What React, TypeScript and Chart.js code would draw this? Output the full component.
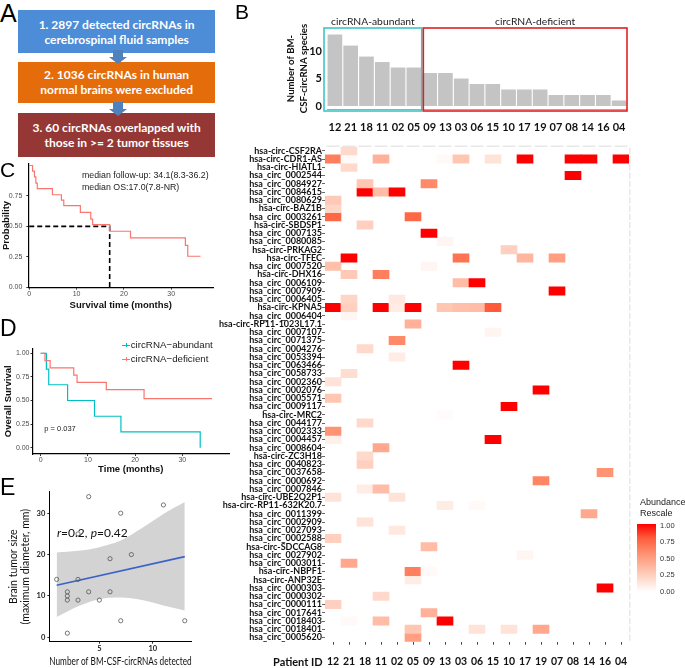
import React, { useEffect, useRef } from "react";
import { Chart, registerables } from "chart.js";

Chart.register(...registerables);
Chart.defaults.font.family = "'Liberation Sans', Arial, sans-serif";

const SANS = "'Liberation Sans', Arial, sans-serif";
const CAL = "Lato, 'Open Sans', sans-serif";

// ---------------- Panel A ----------------
const flowSteps = [
  ["1. 2897 detected circRNAs in", "cerebrospinal fluid samples"],
  ["2. 1036 circRNAs in human", "normal brains were excluded"],
  ["3. 60 circRNAs overlapped with", "those in >= 2 tumor tissues"],
];
const flowColors = ["#4D8CD6", "#E46C0A", "#953735"];

// ---------------- Panel B ----------------
const patientIds = ["12", "21", "18", "11", "02", "05", "09", "13", "03", "06", "15", "10", "17", "19", "07", "08", "14", "16", "04"];
const circRNACounts = [13, 11, 9, 8, 7, 7, 6, 6, 5, 4, 4, 3, 3, 3, 2, 2, 2, 2, 1];
const abundantSize = 6;
const groupLabels = ["circRNA-abundant", "circRNA-deficient"];
const countTicks = [0, 5, 10];

// ---------------- Panel C ----------------
const osMonths = [0, 0.7, 1.1, 1.4, 1.7, 4.9, 6.8, 7.3, 10.8, 13.0, 13.4, 17.0, 21.4, 33.0, 33.5, 36.2];
const osSurvival = [1, 0.954, 0.907, 0.856, 0.81, 0.76, 0.715, 0.67, 0.615, 0.56, 0.515, 0.46, 0.406, 0.344, 0.255, 0.255];
const medianOS = 17.0;
const monthTicks = [0, 10, 20, 30];
const probTicksC = [0, 0.25, 0.5, 0.75];
const followUpText = ["median follow-up: 34.1(8.3-36.2)", "median OS:17.0(7.8-NR)"];

// ---------------- Panel D ----------------
const abundantMonths = [0, 1.2, 1.7, 5.7, 11.4, 17.0, 33.8];
const abundantSurvival = [1, 0.833, 0.667, 0.5, 0.333, 0.167, 0];
const deficientMonths = [0, 0.9, 2.0, 7.0, 7.7, 13.9, 21.9, 36.3];
const deficientSurvival = [1, 0.923, 0.846, 0.769, 0.692, 0.615, 0.519, 0.519];
const probTicksD = [0, 0.25, 0.5, 0.75, 1];
const pValueText = "p = 0.037";
const groupLegend = ["circRNA\u2212abundant", "circRNA\u2212deficient"];

// ---------------- Panel E ----------------
const circNumber = [1, 2, 2, 2, 2, 3, 3, 3, 4, 4, 5, 6, 6, 7, 7, 8, 11, 13];
const tumorSize = [14, 11, 10, 9, 1, 25, 14, 9, 34, 11, 9, 19, 11, 30, 4, 20, 32, 4];
const fitNumber = [1, 13];
const fitSize = [12.6, 19.5];
const bandNumber = [1, 3, 5, 7, 9, 11, 13];
const bandUpper = [20.5, 20.9, 21.8, 23.4, 26.4, 29.8, 32.7];
const bandLower = [4.9, 7.5, 9.2, 9.6, 9.0, 7.7, 6.5];
const sizeTicks = [0, 10, 20, 30];
const numberTicks = [5, 10];

// ---------------- Heatmap ----------------
const circNames = [
  "hsa-circ-CSF2RA", "hsa-circ-CDR1-AS", "hsa-circ-HIATL1", "hsa_circ_0002544", "hsa_circ_0084927",
  "hsa_circ_0084615", "hsa_circ_0080629", "hsa-circ-BAZ1B", "hsa_circ_0003261", "hsa-circ-SBDSP1",
  "hsa_circ_0007135", "hsa_circ_0080085", "hsa-circ-PRKAG2", "hsa-circ-TFEC", "hsa_circ_0007520",
  "hsa-circ-DHX16", "hsa_circ_0006109", "hsa_circ_0007909", "hsa_circ_0006405", "hsa-circ-KPNA5",
  "hsa_circ_0006404", "hsa-circ-RP11-1023L17.1", "hsa_circ_0007107", "hsa_circ_0071375", "hsa_circ_0004276",
  "hsa_circ_0053394", "hsa_circ_0063466", "hsa_circ_0058733", "hsa_circ_0002360", "hsa_circ_0002076",
  "hsa_circ_0005571", "hsa_circ_0009117", "hsa-circ-MRC2", "hsa_circ_0044177", "hsa_circ_0002333",
  "hsa_circ_0004457", "hsa_circ_0008604", "hsa-circ-ZC3H18", "hsa_circ_0040823", "hsa_circ_0037658",
  "hsa_circ_0000692", "hsa_circ_0007846", "hsa-circ-UBE2Q2P1", "hsa-circ-RP11-632K20.7", "hsa_circ_0011399",
  "hsa_circ_0002909", "hsa_circ_0027093", "hsa_circ_0002588", "hsa-circ-SDCCAG8", "hsa_circ_0027902",
  "hsa_circ_0003011", "hsa-circ-NBPF1", "hsa-circ-ANP32E", "hsa_circ_0000303", "hsa_circ_0000302",
  "hsa_circ_0000111", "hsa_circ_0017641", "hsa_circ_0018403", "hsa_circ_0018401", "hsa_circ_0005620",
];
// [row, patient column, rescaled abundance]
const heatCells: [number, number, number][] = [
  [0, 1, 0.2],
  [1, 0, 0.65], [1, 1, 0.03], [1, 3, 0.4], [1, 7, 0.03], [1, 8, 0.3], [1, 10, 0.15], [1, 12, 1], [1, 15, 1], [1, 16, 1], [1, 18, 1],
  [2, 1, 0.2],
  [3, 15, 1],
  [4, 2, 0.3], [4, 6, 0.6],
  [5, 2, 1], [5, 3, 0.35], [5, 4, 1],
  [6, 0, 0.28],
  [7, 0, 0.22],
  [8, 0, 0.75], [8, 5, 0.75],
  [9, 2, 0.25],
  [10, 6, 1],
  [11, 7, 0.05],
  [12, 11, 0.25],
  [13, 1, 1], [13, 8, 0.7], [13, 12, 0.38], [13, 14, 0.5],
  [14, 0, 0.33], [14, 6, 0.05],
  [15, 1, 0.28], [15, 3, 0.65],
  [16, 8, 0.35], [16, 9, 1],
  [17, 14, 1],
  [18, 1, 0.22], [18, 4, 0.12],
  [19, 0, 1], [19, 1, 0.25], [19, 3, 1], [19, 4, 0.1], [19, 5, 1], [19, 7, 0.3], [19, 8, 0.33], [19, 9, 0.35], [19, 10, 0.8],
  [20, 1, 0.05],
  [21, 5, 0.4],
  [22, 10, 0.06],
  [23, 4, 0.6],
  [24, 2, 0.2],
  [25, 4, 0.1],
  [26, 8, 1],
  [27, 1, 0.18],
  [28, 0, 0.15],
  [29, 13, 1],
  [30, 0, 0.3],
  [31, 11, 1],
  [32, 7, 0.02],
  [33, 2, 0.2],
  [34, 0, 0.55],
  [35, 0, 0.08], [35, 10, 1],
  [36, 3, 0.45],
  [37, 2, 0.2],
  [38, 2, 0.25],
  [39, 17, 0.55],
  [40, 13, 0.62],
  [41, 2, 0.1], [41, 3, 0.35],
  [42, 0, 0.15], [42, 4, 0.15],
  [43, 7, 0.1], [43, 9, 0.03],
  [44, 16, 0.45],
  [45, 2, 0.15],
  [46, 4, 0.12],
  [47, 0, 0.25],
  [48, 6, 0.35],
  [49, 12, 0.05],
  [50, 1, 0.45],
  [51, 5, 0.65], [51, 6, 0.03],
  [52, 5, 0.1],
  [53, 17, 1],
  [54, 3, 0.2],
  [55, 0, 0.25],
  [56, 6, 0.4],
  [57, 1, 0.03], [57, 3, 0.35], [57, 7, 1],
  [58, 5, 0.3], [58, 9, 0.15], [58, 11, 0.15], [58, 13, 0.45],
  [59, 5, 0.5],
];
const legendTicks = [1, 0.75, 0.5, 0.25, 0];

// ---------------- helpers ----------------
function heatColor(v: number): string {
  const t = Math.max(0, Math.min(1, v));
  const L = 100 + (53.24 - 100) * t;
  const A = 80.09 * t;
  const B = 67.2 * t;
  const fy = (L + 16) / 116;
  const fx = fy + A / 500;
  const fz = fy - B / 200;
  const d = 6 / 29;
  const inv = (f: number) => (f > d ? f * f * f : 3 * d * d * (f - 4 / 29));
  const X = 0.95047 * inv(fx);
  const Y = inv(fy);
  const Z = 1.08883 * inv(fz);
  const lin = [
    3.2406 * X - 1.5372 * Y - 0.4986 * Z,
    -0.9689 * X + 1.8758 * Y + 0.0415 * Z,
    0.0557 * X - 0.204 * Y + 1.057 * Z,
  ];
  const rgb = lin.map((c) => {
    const cc = Math.max(0, Math.min(1, c));
    const g = cc <= 0.0031308 ? 12.92 * cc : 1.055 * Math.pow(cc, 1 / 2.4) - 0.055;
    return Math.round(g * 255);
  });
  return `rgb(${rgb[0]},${rgb[1]},${rgb[2]})`;
}

const fixW = (w: number) => (s: any) => {
  s.width = w;
};
const fixH = (h: number) => (s: any) => {
  s.height = h;
};
const setTicks = (vals: number[]) => (s: any) => {
  s.ticks = vals.map((v) => ({ value: v }));
};
const pts = (xs: number[], ys: number[]) => xs.map((x, i) => ({ x, y: ys[i] }));
const noPlugins = { legend: { display: false }, tooltip: { enabled: false } };

// ---------------- chart configs ----------------
function barConfig(): any {
  const boxes = {
    id: "groupBoxes",
    afterDatasetsDraw(chart: any) {
      const { ctx, chartArea } = chart;
      const x = chart.scales.x;
      const step = x.getPixelForValue(1) - x.getPixelForValue(0);
      const edge = (i: number) => x.getPixelForValue(i) - step / 2;
      const top = chartArea.top;
      const bottom = chartArea.bottom + 2;
      ctx.save();
      ctx.lineWidth = 1.6;
      const a0 = edge(0) - 3;
      const a1 = edge(abundantSize);
      ctx.strokeStyle = "#3EC6C6";
      ctx.strokeRect(a0, top, a1 - a0, bottom - top);
      const d0 = edge(abundantSize) + 1.6;
      const d1 = edge(patientIds.length);
      ctx.strokeStyle = "#E3201E";
      ctx.strokeRect(d0, top, d1 - d0, bottom - top);
      ctx.fillStyle = "#222";
      ctx.font = `10.3px ${CAL}`;
      ctx.textAlign = "center";
      ctx.textBaseline = "middle";
      ctx.fillText(groupLabels[0], (a0 + a1) / 2, top - 6);
      ctx.fillText(groupLabels[1], (d0 + d1) / 2 + 10, top - 6);
      ctx.restore();
    },
  };
  return {
    type: "bar",
    data: {
      labels: patientIds,
      datasets: [
        {
          data: circRNACounts,
          backgroundColor: "#C4C4C4",
          borderWidth: 0,
          barPercentage: 0.93,
          categoryPercentage: 1,
        },
      ],
    },
    options: {
      animation: false,
      responsive: false,
      layout: { padding: { left: 50, right: 58, top: 28, bottom: 0 } },
      plugins: noPlugins,
      scales: {
        x: {
          grid: { display: false, drawTicks: false },
          border: { display: true, color: "#A8A8A8", width: 1 },
          ticks: { font: { family: CAL, weight: "bold", size: 11 }, color: "#111", padding: 11.4, maxRotation: 0, autoSkip: false },
          afterFit: fixH(31),
        },
        y: {
          min: -0.55,
          max: 14.2,
          afterBuildTicks: setTicks(countTicks),
          grid: { display: false, drawTicks: false },
          border: { display: false },
          ticks: { font: { family: CAL, weight: "bold", size: 11 }, color: "#111", padding: 5 },
          title: {
            display: true,
            text: ["Number of BM-", "CSF-circRNA species"],
            font: { family: CAL, weight: "bold", size: 9.6, lineHeight: 1.4 },
            color: "#111",
            padding: { top: 4, bottom: 0 },
          },
          afterFit: fixW(47),
        },
      },
    },
    plugins: [boxes],
  };
}

const kmTickFont = { family: SANS, size: 7 };
const kmTitleFont = { family: SANS, size: 9.5, weight: "bold" };

function kmAllConfig(): any {
  return {
    type: "line",
    data: {
      datasets: [
        {
          data: pts(osMonths, osSurvival),
          borderColor: "#F8766D",
          borderWidth: 1.2,
          stepped: "before",
          pointRadius: 0,
          fill: false,
        },
        {
          data: [
            { x: 0, y: 0.5 },
            { x: medianOS, y: 0.5 },
            { x: medianOS, y: 0 },
          ],
          borderColor: "#000",
          borderWidth: 1.6,
          borderDash: [5, 3],
          pointRadius: 0,
          fill: false,
        },
      ],
    },
    options: {
      animation: false,
      responsive: false,
      layout: { padding: { left: 0, right: 16.7, top: 13.3, bottom: 0 } },
      plugins: noPlugins,
      scales: {
        x: {
          type: "linear",
          min: -0.2,
          max: 38.9,
          afterBuildTicks: setTicks(monthTicks),
          border: { display: true, color: "#000", width: 1.2 },
          grid: { display: true, drawOnChartArea: false, tickLength: 2, color: "#333" },
          ticks: { font: kmTickFont, color: "#4D4D4D", padding: 0, maxRotation: 0 },
          title: { display: true, text: "Survival time (months)", font: kmTitleFont, color: "#111", padding: { top: 0, bottom: 4.3 } },
          afterFit: fixH(27.4),
        },
        y: {
          type: "linear",
          min: -0.0025,
          max: 1.018,
          afterBuildTicks: setTicks(probTicksC),
          border: { display: true, color: "#000", width: 1.2 },
          grid: { display: true, drawOnChartArea: false, tickLength: 2, color: "#333" },
          ticks: { font: kmTickFont, color: "#4D4D4D", padding: 4, callback: (v: number) => v.toFixed(2) },
          title: { display: true, text: "Probability", font: kmTitleFont, color: "#111", padding: { top: 1, bottom: 0 } },
          afterFit: fixW(28.3),
        },
      },
    },
  };
}

function kmGroupConfig(): any {
  return {
    type: "line",
    data: {
      datasets: [
        {
          data: pts(deficientMonths, deficientSurvival),
          borderColor: "#F8766D",
          borderWidth: 1.2,
          stepped: "before",
          pointRadius: 0,
          fill: false,
        },
        {
          data: pts(abundantMonths, abundantSurvival),
          borderColor: "#00BFC4",
          borderWidth: 1.2,
          stepped: "before",
          pointRadius: 0,
          fill: false,
        },
      ],
    },
    options: {
      animation: false,
      responsive: false,
      layout: { padding: { left: 0, right: 1, top: 38.6, bottom: 0 } },
      plugins: noPlugins,
      scales: {
        x: {
          type: "linear",
          min: -1.74,
          max: 39.9,
          afterBuildTicks: setTicks(monthTicks),
          border: { display: true, color: "#000", width: 1.2 },
          grid: { display: true, drawOnChartArea: false, tickLength: 2, color: "#333" },
          ticks: { font: kmTickFont, color: "#4D4D4D", padding: 0, maxRotation: 0 },
          title: { display: true, text: "Time (months)", font: kmTitleFont, color: "#111", padding: { top: 0, bottom: 0 } },
          afterFit: fixH(21),
        },
        y: {
          type: "linear",
          min: -0.067,
          max: 1.05,
          afterBuildTicks: setTicks(probTicksD),
          border: { display: true, color: "#000", width: 1.2 },
          grid: { display: true, drawOnChartArea: false, tickLength: 2, color: "#333" },
          ticks: { font: kmTickFont, color: "#4D4D4D", padding: 1, callback: (v: number) => v.toFixed(2) },
          title: { display: true, text: "Overall Survival", font: kmTitleFont, color: "#111", padding: { top: 2.3, bottom: 0 } },
          afterFit: fixW(32.5),
        },
      },
    },
  };
}

function scatterConfig(): any {
  return {
    type: "line",
    data: {
      datasets: [
        {
          data: pts(circNumber, tumorSize),
          showLine: false,
          pointRadius: 2.1,
          pointBorderColor: "#555",
          pointBackgroundColor: "rgba(0,0,0,0)",
          pointBorderWidth: 0.8,
        },
        {
          data: pts(fitNumber, fitSize),
          borderColor: "#3A62C8",
          borderWidth: 1.6,
          pointRadius: 0,
          fill: false,
        },
        {
          data: pts(bandNumber, bandUpper),
          borderWidth: 0,
          borderColor: "rgba(0,0,0,0)",
          pointRadius: 0,
          fill: false,
          tension: 0.4,
          cubicInterpolationMode: "monotone",
        },
        {
          data: pts(bandNumber, bandLower),
          borderWidth: 0,
          borderColor: "rgba(0,0,0,0)",
          backgroundColor: "#D3D3D3",
          pointRadius: 0,
          fill: "-1",
          tension: 0.4,
          cubicInterpolationMode: "monotone",
        },
      ],
    },
    options: {
      animation: false,
      responsive: false,
      layout: { padding: { left: 0, right: 38.3, top: 19.7, bottom: 0 } },
      plugins: { ...noPlugins, filler: { propagate: false } },
      scales: {
        x: {
          type: "linear",
          min: 0.31,
          max: 13.65,
          afterBuildTicks: setTicks(numberTicks),
          border: { display: true, color: "#000", width: 1 },
          grid: { display: true, drawOnChartArea: false, tickLength: 2, color: "#333" },
          ticks: { font: { family: CAL, size: 7.5, weight: "bold" }, color: "#222", padding: 0, maxRotation: 0 },
          title: { display: true, text: "Number of BM-CSF-circRNAs detected", font: { family: CAL, size: 11 }, color: "#111", padding: { top: 0, bottom: 0 } },
          afterFit: fixH(26.3),
        },
        y: {
          type: "linear",
          min: -1.06,
          max: 35.2,
          afterBuildTicks: setTicks(sizeTicks),
          border: { display: true, color: "#000", width: 1 },
          grid: { display: true, drawOnChartArea: false, tickLength: 2, color: "#333" },
          ticks: { font: { family: CAL, size: 7.5, weight: "bold" }, color: "#222", padding: 2 },
          title: {
            display: true,
            text: ["Brain tumor size", "(maximum diameter, mm)"],
            font: { family: CAL, size: 10.5, lineHeight: 1.2 },
            color: "#111",
            padding: { top: 7, bottom: 0 },
          },
          afterFit: fixW(49.3),
        },
      },
    },
  };
}

function heatConfig(): any {
  const datasets = circNames.map((name, r) => {
    const rowCells = heatCells.filter((c) => c[0] === r);
    return {
      label: name,
      data: patientIds.map((_, c) => (rowCells.some((k) => k[1] === c) ? [r - 0.5, r + 0.5] : null)),
      backgroundColor: patientIds.map((_, c) => {
        const cell = rowCells.find((k) => k[1] === c);
        return cell ? heatColor(cell[2]) : "rgba(0,0,0,0)";
      }),
      borderWidth: 0,
      barPercentage: 1,
      categoryPercentage: 1,
      grouped: false,
    };
  });
  const edges = {
    id: "panelEdges",
    beforeDatasetsDraw(chart: any) {
      const { ctx, chartArea } = chart;
      const x = chart.scales.x;
      const y = chart.scales.y;
      const cw = x.getPixelForValue(1) - x.getPixelForValue(0);
      const rh = Math.abs(y.getPixelForValue(1) - y.getPixelForValue(0));
      ctx.save();
      ctx.strokeStyle = "#E4E4E4";
      ctx.lineWidth = 1.3;
      for (let i = 0; i < patientIds.length; i++) {
        const cx = x.getPixelForValue(i);
        ctx.beginPath();
        ctx.moveTo(cx - cw / 2 + 1.5, chartArea.top - 0.5);
        ctx.lineTo(cx + cw / 2 - 1.5, chartArea.top - 0.5);
        ctx.stroke();
      }
      for (let r = 0; r < circNames.length; r++) {
        const cy = y.getPixelForValue(r);
        ctx.beginPath();
        ctx.moveTo(chartArea.right + 0.8, cy - rh / 2 + 1);
        ctx.lineTo(chartArea.right + 0.8, cy + rh / 2 - 1);
        ctx.stroke();
      }
      ctx.restore();
    },
  };
  return {
    type: "bar",
    data: { labels: patientIds, datasets },
    options: {
      animation: false,
      responsive: false,
      layout: { padding: { left: 0, right: 56, top: 6.7, bottom: 0 } },
      plugins: noPlugins,
      scales: {
        x: {
          offset: true,
          grid: { display: true, drawOnChartArea: false, offset: false, tickLength: 3, color: "#444", lineWidth: 1 },
          border: { display: false },
          ticks: { font: { family: CAL, weight: "bold", size: 10.5 }, color: "#111", padding: 10.7, maxRotation: 0, autoSkip: false },
          afterFit: fixH(26.3),
        },
        y: {
          type: "linear",
          min: -0.5,
          max: circNames.length - 0.5,
          reverse: true,
          afterBuildTicks: setTicks(circNames.map((_, i) => i)),
          grid: { display: true, drawOnChartArea: false, tickLength: 3, color: "#444", lineWidth: 0.8 },
          border: { display: false },
          ticks: {
            autoSkip: false,
            font: { family: CAL, weight: "bold", size: 9 },
            color: "#111",
            padding: 0,
            callback: (v: number) => circNames[v],
          },
          afterFit: fixW(110),
        },
      },
    },
    plugins: [edges],
  };
}

// ---------------- components ----------------
function ChartCanvas(props: { config: () => any; left: number; top: number; width: number; height: number }) {
  const ref = useRef<HTMLCanvasElement | null>(null);
  useEffect(() => {
    if (!ref.current) return;
    const chart = new Chart(ref.current, props.config());
    return () => chart.destroy();
  }, []);
  const { left, top, width, height } = props;
  return (
    <div style={{ position: "absolute", left, top, width, height }}>
      <canvas ref={ref} width={width} height={height} style={{ width, height, display: "block" }} />
    </div>
  );
}

function Letter(props: { ch: string; x: number; y: number; size: number }) {
  return (
    <div style={{ position: "absolute", left: props.x, top: props.y, fontFamily: SANS, fontSize: props.size, lineHeight: 1, color: "#000" }}>
      {props.ch}
    </div>
  );
}

function DownArrow(props: { x: number; y: number }) {
  return (
    <svg style={{ position: "absolute", left: props.x, top: props.y }} width={18} height={14}>
      <polygon points="4,0 14,0 14,7 18,7 9,14 0,7 4,7" fill="#4F81BD" />
    </svg>
  );
}

const boxTops = [10, 61.7, 113.3];
const boxHeights = [43.3, 41.6, 43.4];

export default function App() {
  const gradient = `linear-gradient(to bottom, ${[1, 0.8, 0.6, 0.4, 0.2, 0].map((v) => heatColor(v)).join(", ")})`;
  return (
    <div style={{ position: "absolute", left: 0, top: 0, width: 685, height: 668, overflow: "hidden", background: "#fff", fontFamily: SANS }}>
      {/* Panel A flowchart */}
      {flowSteps.map((lines, i) => (
        <div
          key={i}
          style={{
            position: "absolute",
            left: 18.3,
            top: boxTops[i],
            width: 196.7,
            height: boxHeights[i],
            background: flowColors[i],
            color: "#fff",
            fontFamily: CAL,
            fontWeight: "bold",
            fontSize: 12,
            lineHeight: "15px",
            display: "flex",
            flexDirection: "column",
            alignItems: "center",
            justifyContent: "center",
            textAlign: "center",
          }}
        >
          <div>{lines[0]}</div>
          <div>{lines[1]}</div>
        </div>
      ))}
      <DownArrow x={108.5} y={50} />
      <DownArrow x={108.5} y={102} />

      <ChartCanvas config={barConfig} left={230} top={0} width={455} height={140} />
      <ChartCanvas config={kmAllConfig} left={0} top={150} width={230} height={165} />
      <ChartCanvas config={kmGroupConfig} left={0} top={310} width={230} height={165} />
      <ChartCanvas config={scatterConfig} left={0} top={472} width={230} height={196} />
      <ChartCanvas config={heatConfig} left={215} top={140} width={470} height={528} />

      {/* Panel letters */}
      <Letter ch="A" x={0} y={0.5} size={25} />
      <Letter ch="B" x={235} y={0.5} size={21} />
      <Letter ch="C" x={0} y={159} size={21} />
      <Letter ch="D" x={0} y={317} size={23} />
      <Letter ch="E" x={0} y={475.5} size={23} />

      {/* Panel C annotation */}
      {followUpText.map((t, i) => (
        <div key={i} style={{ position: "absolute", left: 82, top: 169 + i * 11.5, fontFamily: SANS, fontSize: 8.8, lineHeight: "12px", color: "#222", whiteSpace: "nowrap" }}>
          {t}
        </div>
      ))}

      {/* Panel D legend & p value */}
      {groupLegend.map((t, i) => (
        <div key={i} style={{ position: "absolute", left: 122, top: 339 + i * 14, height: 12, whiteSpace: "nowrap" }}>
          <div style={{ position: "absolute", left: 0, top: 5.5, width: 8, height: 1.2, background: i === 0 ? "#00BFC4" : "#F8766D" }} />
          <div style={{ position: "absolute", left: 3.5, top: 4, width: 1, height: 4, background: i === 0 ? "#00BFC4" : "#F8766D" }} />
          <div style={{ position: "absolute", left: 8.7, top: 0, fontFamily: SANS, fontSize: 9.75, lineHeight: "12px", color: "#222" }}>{t}</div>
        </div>
      ))}
      <div style={{ position: "absolute", left: 44.3, top: 424, fontFamily: SANS, fontSize: 7.5, lineHeight: "10px", color: "#222" }}>{pValueText}</div>

      {/* Panel E annotation */}
      <div style={{ position: "absolute", left: 57, top: 526, fontFamily: CAL, fontSize: 12, lineHeight: "14px", color: "#111", whiteSpace: "nowrap" }}>
        <i>r</i>=0.2, <i>p</i>=0.42
      </div>

      {/* Heatmap x label */}
      <div style={{ position: "absolute", left: 273, top: 655, fontFamily: CAL, fontWeight: "bold", fontSize: 11, lineHeight: "14px", color: "#111" }}>Patient ID</div>

      {/* Heatmap legend */}
      <div style={{ position: "absolute", left: 640, top: 497, fontFamily: SANS, fontSize: 9, lineHeight: "11px", color: "#222" }}>
        Abundance
        <br />
        Rescale
      </div>
      <div style={{ position: "absolute", left: 637, top: 524, width: 19, height: 68, background: gradient }} />
      {legendTicks.map((v, i) => (
        <div key={i} style={{ position: "absolute", left: 660, top: 525.7 + i * 16.5 - 5, fontFamily: SANS, fontSize: 7.5, lineHeight: "10px", color: "#333" }}>
          {v.toFixed(2)}
        </div>
      ))}
    </div>
  );
}
